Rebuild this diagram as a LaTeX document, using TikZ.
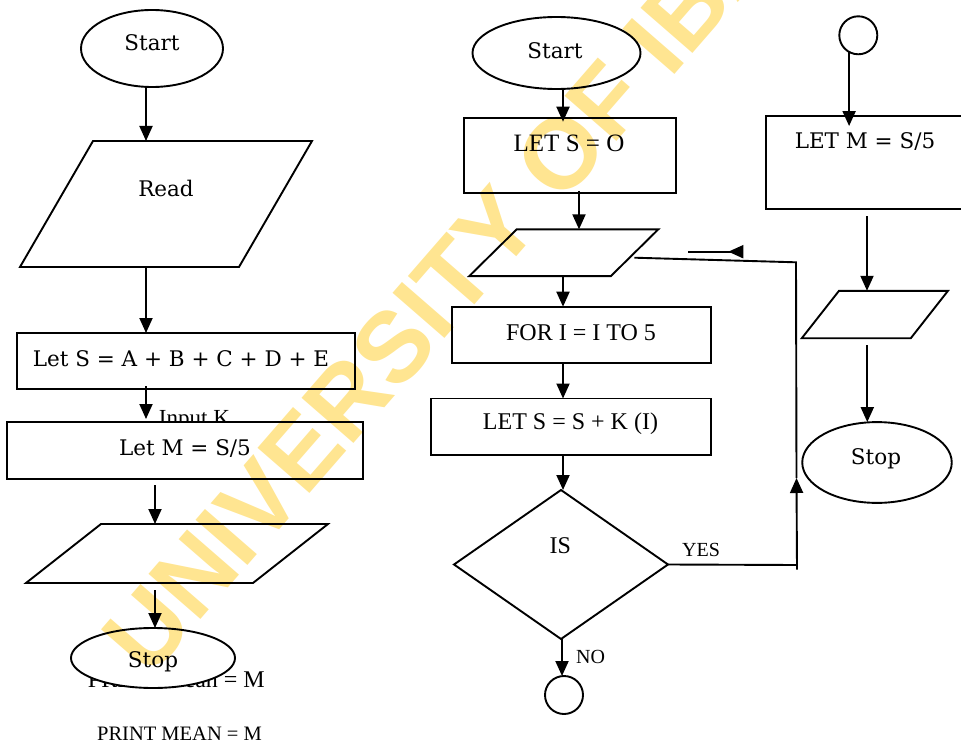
\documentclass[tikz,border=0pt]{standalone}
\usepackage{fontspec}
\setmainfont{Liberation Serif}
\newfontfamily\bookfont{DejaVu Serif}
\newfontfamily\markfont{Liberation Sans}
\usetikzlibrary{shapes.geometric,arrows.meta}
\definecolor{markyellow}{RGB}{255,229,145}
\begin{document}
\begin{tikzpicture}[x=1pt,y=-1pt,
  line width=1.9pt,
  shapebox/.style={draw, fill=white, inner sep=0pt, outer sep=0pt},
  rectbox/.style={shapebox, rectangle},
  ovalbox/.style={shapebox, ellipse},
  roundbox/.style={shapebox, circle},
  frame/.style={inner sep=0pt, outer sep=0pt},
  bk/.style={font=\bookfont\fontsize{21.5}{24}\selectfont, inner sep=0pt, anchor=base},
  tm/.style={font=\fontsize{#1}{#1}\selectfont, inner sep=0pt, anchor=base},
  arr/.style={-{Triangle[length=15pt,width=13pt]}},
  backarr/.style={-{Triangle[length=15pt,width=13pt,reversed]}},
]
\useasboundingbox (0,0) rectangle (961,746);
\clip (0,0) rectangle (961,746);

% ---------------- left chart: mean of five numbers ----------------
\node[ovalbox, minimum width=142pt, minimum height=77pt] (startL) at (152,48.5) {};
\node[frame, minimum width=292pt, minimum height=126pt] (readL) at (166,204) {};
\draw[fill=white] ([xshift=73pt]readL.north west) -- (readL.north east)
  -- ([xshift=-73pt]readL.south east) -- (readL.south west) -- cycle;
\node[rectbox, minimum width=338pt, minimum height=56pt] (letS) at (186,361) {};
\node[tm=23, anchor=base west] (tInput) at (158,425) {Input K};
\node[rectbox, minimum width=356pt, minimum height=57pt] (letM) at (185,450.5) {};
\node[frame, minimum width=302pt, minimum height=59pt] (outL) at (177,553.5) {};
\draw[fill=white] ([xshift=75pt]outL.north west) -- (outL.north east)
  -- ([xshift=-75pt]outL.south east) -- (outL.south west) -- cycle;
\node[tm=24, anchor=base west] (tPrintA) at (87,687) {PRINT Mean = M};
\node[ovalbox, minimum width=164pt, minimum height=60pt] (stopL) at (153,658) {};

\node[bk] (tStartL) at (152,51) {Start};
\node[bk] (tRead) at (166,197) {Read};
\node[bk] (tLetS) at (181,366) {Let S = A + B + C + D + E};
\node[bk] (tLetM) at (185,455) {Let M = S/5};
\node[bk] (tStopL) at (153,667) {Stop};
\node[tm=20.5] (tPrintB) at (179.5,740) {PRINT MEAN = M};

\draw[arr] ([xshift=-6pt]startL.south) -- ([xshift=-6pt]startL.south |- readL.north);
\draw[arr] ([xshift=-20pt,yshift=-1pt]readL.south) -- ([xshift=-20pt]readL.south |- letS.north);
\draw[arr] ([xshift=-40pt,yshift=3pt]letS.south) -- ([xshift=-40pt,yshift=3pt]letS.south |- letM.north);
\draw[arr] ([xshift=-30pt,yshift=-6pt]letM.south) -- ([xshift=-30pt]letM.south |- outL.north);
\draw[arr] ([xshift=-22pt,yshift=-7pt]outL.south) -- ([xshift=-22pt]outL.south |- stopL.north);

% ---------------- middle chart: summing loop ----------------
\node[ovalbox, minimum width=168pt, minimum height=72pt] (startM) at (556.5,53) {};
\node[rectbox, minimum width=212pt, minimum height=75.6pt] (letS0) at (569.8,155.5) {};
\node[frame, minimum width=189pt, minimum height=46.7pt] (inM) at (563.8,252.7) {};
\draw[fill=white] ([xshift=47.4pt]inM.north west) -- (inM.north east)
  -- ([xshift=-47.4pt]inM.south east) -- (inM.south west) -- cycle;
\node[rectbox, minimum width=259.3pt, minimum height=56.6pt] (forR) at (581.3,335) {};
\node[rectbox, minimum width=280pt, minimum height=56.5pt] (letSK) at (571,426.75) {};
\node[shapebox, diamond, minimum width=214pt, minimum height=149pt] (isD) at (561,564.5) {};
\node[roundbox, minimum size=38pt] (circB) at (564,695) {};

\node[bk] (tStartM) at (555,58.5) {Start};
\node[tm=25] (tLetS0) at (569,151.5) {LET S = O};
\node[tm=24] (tFor) at (581,340) {FOR I = I TO 5};
\node[tm=24] (tLetSK) at (570.5,429) {LET S = S + K (I)};
\node[tm=24] (tIs) at (560.4,553.5) {IS};
\node[tm=20] (tYes) at (701,556) {YES};
\node[tm=20] (tNo) at (590.5,663.3) {NO};

\draw[arr] ([xshift=6.5pt]startM.south) -- ([xshift=6.5pt,yshift=-4pt]startM.south |- letS0.north);
\draw[arr] ([xshift=9.2pt,yshift=2.5pt]letS0.south) -- ([xshift=9.2pt]letS0.south |- inM.north);
\draw[arr] ([xshift=-0.8pt]inM.south) -- ([xshift=-0.8pt]inM.south |- forR.north);
\draw[arr] ([xshift=-18.3pt]forR.south) -- ([xshift=-18.3pt]forR.south |- letSK.north);
\draw[arr] ([xshift=-8pt]letSK.south) -- ([xshift=-8pt]letSK.south |- isD.north);
\draw[arr] ([xshift=1pt]isD.south) -- ([xshift=1pt]isD.south |- circB.north);

% loop back on YES
\coordinate (yesEnd) at (797,565);
\coordinate (yesLow) at (797,569.5);
\coordinate (yesMid) at (796.5,478);
\coordinate (yesTop) at (796,262.3);
\coordinate (yesBack) at (634.3,257.7);
\draw (isD.east) -- (yesEnd);
\draw[arr] (yesLow) -- (yesMid);
\draw (yesMid) -- (yesTop) -- (yesBack);
\coordinate (flagA) at (688.3,251.7);
\coordinate (flagB) at (743.3,251.7);
\draw[backarr] (flagA) -- (flagB);

% ---------------- right chart: mean and output ----------------
\node[roundbox, minimum size=38pt] (circT) at (858.3,35.3) {};
\node[rectbox, minimum width=224pt, minimum height=93.3pt] (letMR) at (877.7,162.7) {};
\node[frame, minimum width=146.2pt, minimum height=47.4pt] (outR) at (874.9,314.5) {};
\draw[fill=white] ([xshift=37.2pt]outR.north west) -- (outR.north east)
  -- ([xshift=-37.2pt]outR.south east) -- (outR.south west) -- cycle;
\node[ovalbox, minimum width=149.5pt, minimum height=80.8pt] (stopR) at (877,462.5) {};

\node[bk] (tLetMR) at (865,148.3) {LET M = S/5};
\node[bk] (tStopR) at (876,464.6) {Stop};

\draw[arr] (circT.241.7) -- ([yshift=-10pt]circT.241.7 |- letMR.north);
\draw[arr] ([xshift=-10.7pt,yshift=-6.7pt]letMR.south) -- ([xshift=-10.7pt]letMR.south |- outR.north);
\draw[arr] ([xshift=-7.6pt,yshift=-7pt]outR.south) -- ([xshift=-7.6pt]outR.south |- stopR.north);

% ---------------- watermark ----------------
\begin{scope}[blend mode=multiply]
\node[font=\markfont\bfseries\fontsize{100}{100}\selectfont, text=markyellow, inner sep=0pt,
  anchor=base west, rotate=49] (mark) at (148.6,679.9) {UNIVERSITY OF IBADAN};
\end{scope}
\end{tikzpicture}
\end{document}
